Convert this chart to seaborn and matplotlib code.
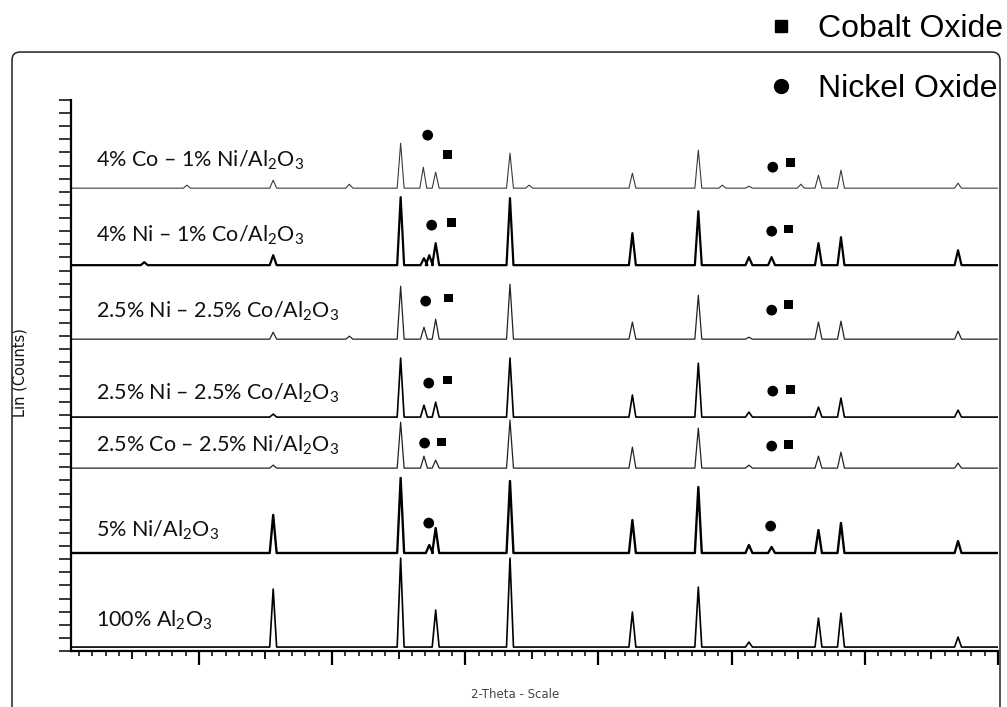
"""
XRD patterns of Ni/Co on Al2O3 catalysts (stacked traces)
Rebuilds the scanned figure as out.png
"""

import numpy as np
import pandas as pd
import matplotlib
matplotlib.use('Agg')
import matplotlib.pyplot as plt
from matplotlib.lines import Line2D
from matplotlib.patches import FancyBboxPatch
from matplotlib.ticker import MultipleLocator
import seaborn as sns

# ── Data (2-theta in degrees, intensities in counts) ─────────────────────────
SAMPLES = [
    "4% Co – 1% Ni/Al$_{\\mathrm{2}}$O$_{\\mathrm{3}}$",
    "4% Ni – 1% Co/Al$_{\\mathrm{2}}$O$_{\\mathrm{3}}$",
    "2.5% Ni – 2.5% Co/Al$_{\\mathrm{2}}$O$_{\\mathrm{3}}$",
    "2.5% Ni – 2.5% Co/Al$_{\\mathrm{2}}$O$_{\\mathrm{3}}$ ",
    "2.5% Co – 2.5% Ni/Al$_{\\mathrm{2}}$O$_{\\mathrm{3}}$",
    "5% Ni/Al$_{\\mathrm{2}}$O$_{\\mathrm{3}}$",
    "100% Al$_{\\mathrm{2}}$O$_{\\mathrm{3}}$",
]
BASELINES = [3528, 2941, 2377, 1783, 1394, 747, 30]
LABEL_Y   = [3740, 3170, 2590, 1965, 1570, 920, 230]

T1_POS = [19.1, 25.58, 31.3, 35.15, 36.85, 37.78, 43.36, 44.8, 52.55, 57.50, 59.3, 61.30, 65.2, 66.52, 68.21, 77.0]
T1_HGT = [23, 61, 30, 343, 160, 122, 267, 23, 114, 290, 23, 15, 30, 99, 137, 38]
T2_POS = [15.9, 25.58, 35.15, 36.9, 37.3, 37.78, 43.36, 52.55, 57.50, 61.30, 63.0, 66.52, 68.21, 77.0]
T2_HGT = [23, 76, 518, 53, 76, 168, 511, 244, 411, 61, 61, 168, 213, 114]
T3_POS = [25.58, 31.3, 35.15, 36.9, 37.78, 43.36, 52.55, 57.50, 61.30, 66.52, 68.21, 77.0]
T3_HGT = [53, 23, 404, 91, 152, 419, 130, 335, 15, 130, 137, 61]
T4_POS = [25.58, 35.15, 36.9, 37.78, 43.36, 52.55, 57.50, 61.30, 66.52, 68.21, 77.0]
T4_HGT = [23, 450, 91, 114, 450, 168, 411, 38, 76, 145, 53]
T5_POS = [25.58, 35.15, 36.9, 37.78, 43.36, 52.55, 57.50, 61.30, 66.52, 68.21, 77.0]
T5_HGT = [23, 350, 91, 61, 366, 160, 305, 23, 91, 122, 38]
T6_POS = [25.58, 35.15, 37.3, 37.78, 43.36, 52.55, 57.50, 61.30, 63.0, 66.52, 68.21, 77.0]
T6_HGT = [290, 572, 61, 190, 549, 251, 503, 61, 46, 175, 229, 91]
T7_POS = [25.58, 35.15, 37.78, 43.36, 52.55, 57.50, 61.30, 66.52, 68.21, 77.0]
T7_HGT = [442, 678, 282, 678, 267, 457, 38, 221, 259, 76]

PEAK_POS = [T1_POS, T2_POS, T3_POS, T4_POS, T5_POS, T6_POS, T7_POS]
PEAK_HGT = [T1_HGT, T2_HGT, T3_HGT, T4_HGT, T5_HGT, T6_HGT, T7_HGT]

# phase markers placed above the reflections
NIO_X = [37.18, 63.09, 37.48, 63.01, 37.03, 63.01, 37.26, 63.09, 36.95, 63.01, 37.26, 62.93]
NIO_Y = [3932, 3688, 3246, 3200, 2667, 2598, 2042, 1981, 1585, 1562, 975, 952]
COO_X = [38.68, 64.44, 38.98, 64.29, 38.75, 64.29, 38.68, 64.44, 38.23, 64.29]
COO_Y = [3787, 3726, 3269, 3216, 2690, 2644, 2065, 1996, 1593, 1577]

X_MIN, X_MAX = 10.4, 80.0
Y_MAX = 4200
HALF_W = 0.26

# ── Build long table of trace vertices ───────────────────────────────────────
rows = []
for name, base, pos, hgt in zip(SAMPLES, BASELINES, PEAK_POS, PEAK_HGT):
    rows.append((name, X_MIN, base))
    for p, h in sorted(zip(pos, hgt)):
        rows.append((name, p - HALF_W, base))
        rows.append((name, p, base + h))
        rows.append((name, p + HALF_W, base))
    rows.append((name, X_MAX, base))
df = pd.DataFrame(rows, columns=["sample", "two_theta", "counts"])

sns.set_theme(style="ticks")
plt.rcParams["font.family"] = ["Lato", "DejaVu Sans"]
plt.rcParams["mathtext.fontset"] = "custom"
plt.rcParams["mathtext.rm"] = "Lato"
plt.rcParams["mathtext.it"] = "Lato:italic"

LINE_W  = dict(zip(SAMPLES, [0.8, 1.6, 0.9, 1.2, 0.9, 1.7, 1.2]))
LINE_C  = dict(zip(SAMPLES, ["#3a3a3a", "black", "#222222", "black", "#222222", "black", "black"]))

fig = plt.figure(figsize=(10.07, 7.07), dpi=100)
ax = fig.add_axes([71 / 1007, 56 / 707, 927 / 1007, 551 / 707])

sns.lineplot(data=df, x="two_theta", y="counts", hue="sample", size="sample",
             palette=LINE_C, sizes=LINE_W, estimator=None, sort=False,
             legend=False, ax=ax)
sns.scatterplot(x=NIO_X, y=NIO_Y, marker="o", s=60, color="black",
                edgecolor="none", ax=ax)
sns.scatterplot(x=COO_X, y=COO_Y, marker="s", s=40, color="black",
                edgecolor="none", ax=ax)

for name, y in zip(SAMPLES, LABEL_Y):
    ax.text(12.3, y, name.strip(), fontsize=15.5, va="center", ha="left", color="#111111")

# ── Axes styling ─────────────────────────────────────────────────────────────
ax.set_xlim(X_MIN, X_MAX)
ax.set_ylim(0, Y_MAX)
sns.despine(ax=ax, top=True, right=True)
for s in ("left", "bottom"):
    ax.spines[s].set_linewidth(1.6)
    ax.spines[s].set_color("black")

ax.xaxis.set_major_locator(MultipleLocator(5))
ax.xaxis.set_minor_locator(MultipleLocator(1))
ax.yaxis.set_major_locator(MultipleLocator(100))
ax.tick_params(axis="x", which="major", direction="out", length=6, width=1.3,
               color="black", labelbottom=False)
ax.tick_params(axis="x", which="minor", direction="out", length=3.5, width=1.1,
               color="black")
ax.tick_params(axis="y", which="major", direction="out", length=9, width=1.1,
               color="black", labelleft=False)

sec = ax.secondary_xaxis("bottom")
sec.set_xticks(np.arange(20, 81, 10))
sec.tick_params(direction="out", length=10, width=1.6, color="black", labelbottom=False)
sec.spines["bottom"].set_visible(False)

ax.set_xlabel("2-Theta - Scale", fontsize=8.5, color="#444444", family="DejaVu Sans")
ax.xaxis.set_label_coords(0.479, -0.067)
ax.set_ylabel("Lin (Counts)", fontsize=10.5, color="#111111", family="DejaVu Sans")
ax.yaxis.set_label_coords(-0.0464, 0.505)

# outer scan frame
frame = FancyBboxPatch((12 / 1007, -0.03), 988 / 1007, 0.9564,
                       boxstyle="round,pad=0,rounding_size=0.008",
                       mutation_aspect=1007 / 707, transform=fig.transFigure,
                       fill=False, lw=1.1, edgecolor="#222222", clip_on=False)
fig.patches.append(frame)

# phase legend
handles = [Line2D([], [], ls="", marker="s", ms=9, color="black"),
           Line2D([], [], ls="", marker="o", ms=10, color="black")]
leg = fig.legend(handles, ["Cobalt Oxide", "Nickel Oxide"], loc="upper left",
                 bbox_to_anchor=(768 / 1007, 1 - 14 / 707), frameon=False,
                 prop={"family": "Liberation Sans", "size": 23},
                 handlelength=0.8, handletextpad=0.75, labelspacing=0.95,
                 borderpad=0, borderaxespad=0)
for t in leg.get_texts():
    t.set_color("black")

fig.savefig("out.png", dpi=100, facecolor="white")
